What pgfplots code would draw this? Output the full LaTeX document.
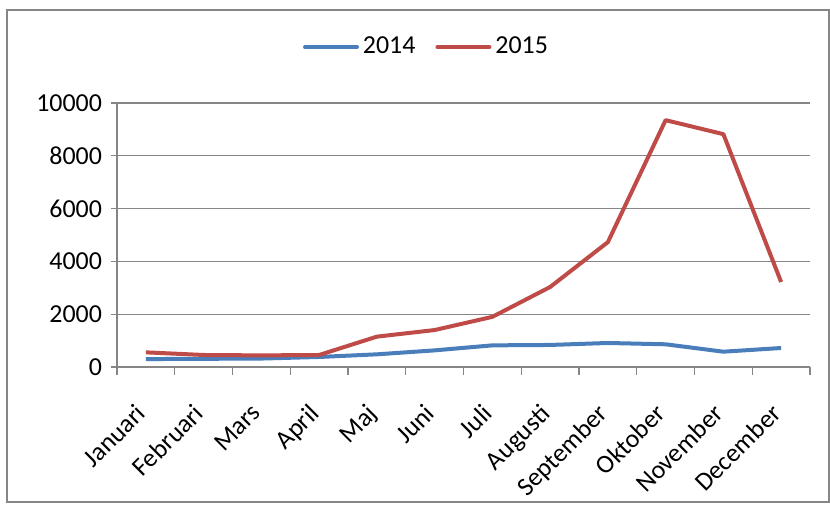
\documentclass[border=0pt]{standalone}
\usepackage{pgfplots}
\pgfplotsset{compat=1.18}
\usepackage{fontspec}
\setmainfont{Carlito}
\definecolor{blue14}{RGB}{74,126,187}
\definecolor{red15}{RGB}{190,75,72}
\definecolor{gridgray}{RGB}{134,134,134}
\begin{document}
\fontsize{13}{15}\selectfont
\begin{tikzpicture}
\begin{axis}[
  scale only axis,
  width=346.5bp, height=132bp,
  xmin=0.5, xmax=12.5,
  ymin=0, ymax=10000,
  axis lines=left,
  axis line style={-, gridgray, line width=0.6bp},
  xtick={1,...,12},
  xticklabels={Januari,Februari,Mars,April,Maj,Juni,Juli,Augusti,September,Oktober,November,December},
  major x tick style={draw=none},
  minor xtick={0.5,1.5,...,12.5},
  minor tick length=4bp,
  minor x tick style={gridgray, line width=0.6bp},
  x tick label style={rotate=45, anchor=north east, font=\fontsize{13}{15}\selectfont, xshift=-10bp, yshift=-2bp},
  ytick={0,2000,...,10000},
  scaled y ticks=false,
  ymajorgrids,
  major grid style={gridgray, line width=0.6bp},
  major tick length=3bp,
  y tick style={gridgray, line width=0.6bp},
  tick align=outside,
  /pgf/number format/assume math mode=true,
  /pgf/number format/set thousands separator={},
  y tick label style={font=\fontsize{13}{15}\selectfont},
  legend style={at={(0.448,1.212)}, anchor=center, draw=none, legend columns=2,
    font=\fontsize{13}{15}\selectfont, /tikz/every even column/.append style={column sep=8bp}},
  legend image code/.code={\draw[#1, line cap=round] (0bp,0bp) -- (26bp,0bp);},
  clip=false,
]
\addplot[blue14, line width=2bp, line join=round] coordinates {
 (1,300) (2,310) (3,320) (4,380) (5,480) (6,630) (7,820) (8,835) (9,910) (10,860) (11,580) (12,720)};
\addlegendentry{2014}
\addplot[red15, line width=2bp, line join=round] coordinates {
 (1,555) (2,455) (3,440) (4,455) (5,1150) (6,1400) (7,1900) (8,3030) (9,4730) (10,9350) (11,8820) (12,3220)};
\addlegendentry{2015}
\draw[gridgray, line width=0.8bp] ([xshift=-55bp,yshift=-67.5bp]rel axis cs:0,0) rectangle ([xshift=9.5bp,yshift=46.5bp]rel axis cs:1,1);
\path[use as bounding box] ([xshift=-58.5bp,yshift=-68bp]rel axis cs:0,0) rectangle ([xshift=10bp,yshift=51.5bp]rel axis cs:1,1);
\end{axis}
\end{tikzpicture}
\end{document}
